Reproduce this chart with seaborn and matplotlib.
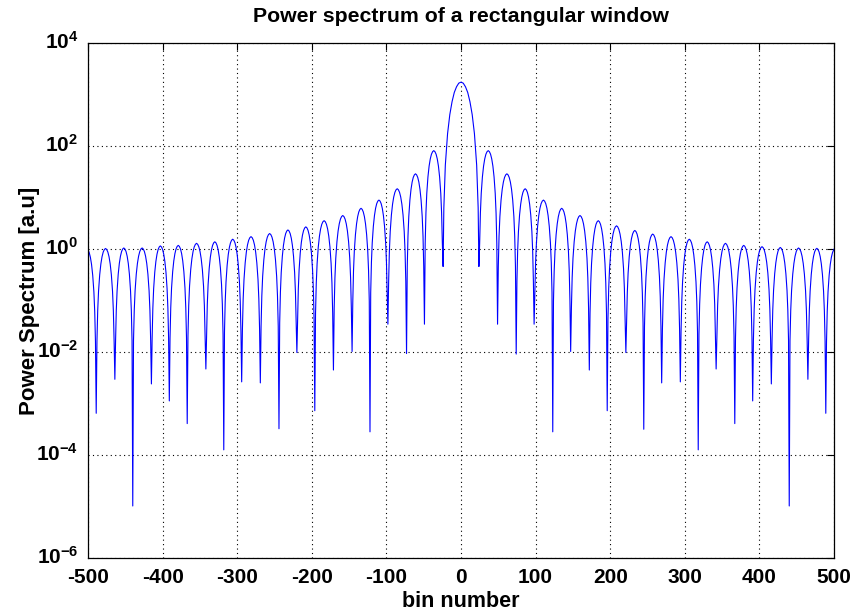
import numpy as np
import pandas as pd
import seaborn as sns
import matplotlib.pyplot as plt
import matplotlib.transforms as mtransforms
from matplotlib.ticker import NullLocator

# ---------------- data (log10 of power) ----------------
# nulls right of centre (bin, log10 depth)
null_bins_right = [24, 49, 74, 98, 123, 147, 172, 196, 221, 245,
                   269, 294, 318, 342, 367, 391, 416, 440, 465, 489]
null_log_right = [-0.34, -1.46, -2.04, -1.46, -3.55, -1.99, -2.35, -3.14, -2.01, -3.50,
                  -2.60, -2.58, -3.90, -2.33, -3.39, -2.95, -2.62, -4.99, -2.53, -3.19]
# side-lobe peaks right of centre (between consecutive nulls), log10
peak_log_right = [1.91, 1.46, 1.17, 0.95, 0.79, 0.65, 0.55, 0.45, 0.36, 0.29,
                  0.24, 0.19, 0.14, 0.11, 0.07, 0.045, 0.03, 0.02, 0.013]

# nulls left of centre
null_bins_left = [-24, -49, -73, -98, -122, -146, -171, -196, -220, -244,
                  -269, -294, -318, -342, -367, -391, -415, -440, -464, -489]
null_log_left = [-0.34, -1.46, -2.03, -1.46, -3.55, -1.99, -2.35, -3.14, -2.01, -3.49,
                 -2.60, -2.58, -3.90, -2.33, -3.39, -2.95, -2.62, -4.99, -2.53, -3.19]
peak_log_left = [1.91, 1.46, 1.17, 0.95, 0.79, 0.65, 0.55, 0.43, 0.37, 0.30,
                 0.24, 0.19, 0.14, 0.11, 0.07, 0.06, 0.02, 0.02, 0.01]

# value at the plot edges (bin -500 / 500), log10
edge_log_left = 0.0
edge_log_right = 0.0

# main lobe (bin, log10)
main_bins = [-23, -21, -18, -15, -12, -9, -6, -3, 0, 3, 6, 9, 12, 15, 18, 21, 23]
main_log = [0.80, 1.63, 2.24, 2.61, 2.86, 3.04, 3.15, 3.22, 3.24,
            3.22, 3.15, 3.04, 2.86, 2.61, 2.24, 1.63, 0.80]

# shape of one side lobe: position across the lobe
# (0 = one null, 1 = next null) and drop below the lobe peak in decades
lobe_frac = [0.04, 0.08, 0.125, 0.1875, 0.25, 0.3125, 0.375, 0.4375, 0.5,
             0.5625, 0.625, 0.6875, 0.75, 0.8125, 0.875, 0.92, 0.96]
lobe_drop = [1.80, 1.21, 0.83, 0.51, 0.30, 0.16, 0.07, 0.02, 0.0,
             0.02, 0.07, 0.16, 0.30, 0.51, 0.83, 1.21, 1.80]

x_ticks = [-500, -400, -300, -200, -100, 0, 100, 200, 300, 400, 500]
y_ticks = [1e-6, 1e-4, 1e-2, 1e0, 1e2, 1e4]
y_tick_labels = [r'$\mathbf{10^{-6}}$', r'$\mathbf{10^{-4}}$', r'$\mathbf{10^{-2}}$',
                 r'$\mathbf{10^{0}}$', r'$\mathbf{10^{2}}$', r'$\mathbf{10^{4}}$']

# ---------------- assemble the curve ----------------
xs, ls = [], []
xs += main_bins
ls += main_log


def add_side(nulls, nlog, peaks, edge_log, sign):
    for b, v in zip(nulls, nlog):
        xs.append(b)
        ls.append(v)
    for i, p in enumerate(peaks):
        a, b = nulls[i], nulls[i + 1]
        for f, d in zip(lobe_frac, lobe_drop):
            xs.append(a + f * (b - a))
            ls.append(p - d)
    # partial lobe at the edge
    a = nulls[-1]
    w = nulls[-1] - nulls[-2]
    for f, d in zip(lobe_frac, lobe_drop):
        xv = a + f * w
        if abs(xv) < 500:
            xs.append(xv)
            ls.append(edge_log - d)
    xs.append(sign * 500)
    ls.append(edge_log)


add_side(null_bins_right, null_log_right, peak_log_right, edge_log_right, 1)
add_side(null_bins_left, null_log_left, peak_log_left, edge_log_left, -1)

df = pd.DataFrame({'bin': xs, 'power': np.power(10.0, ls)}).sort_values('bin')

# ---------------- plot ----------------
sns.set_theme(style='white')
plt.rcParams['font.family'] = ['Liberation Sans', 'DejaVu Sans']
plt.rcParams['mathtext.fontset'] = 'custom'
plt.rcParams['mathtext.bf'] = 'Liberation Sans:bold'
plt.rcParams['mathtext.rm'] = 'Liberation Sans:bold'
for k in ['text.color', 'axes.labelcolor', 'xtick.color', 'ytick.color', 'axes.edgecolor']:
    plt.rcParams[k] = 'black'

fig = plt.figure(figsize=(8.61, 6.12), dpi=100)
ax = fig.add_axes([88 / 861, 1 - 558 / 612, (834 - 88) / 861, (558 - 43) / 612])

sns.lineplot(data=df, x='bin', y='power', ax=ax, color='#0000ff',
             linewidth=0.8, estimator=None, sort=False)

ax.set_yscale('log')
ax.set_xlim(-500, 500)
ax.set_ylim(1e-6, 1e4)
ax.set_xticks(x_ticks)
ax.set_xticklabels([str(t) for t in x_ticks])
ax.set_yticks(y_ticks)
ax.set_yticklabels(y_tick_labels)
ax.yaxis.set_minor_locator(NullLocator())

for lab in ax.get_xticklabels():
    lab.set_fontweight('bold')
ax.tick_params(axis='both', direction='in', top=True, right=True, length=5,
               width=0.8, colors='black', labelsize=15)
ax.tick_params(axis='x', pad=7)
ax.tick_params(axis='y', pad=7)

# lift the y tick labels so the base "10" sits on the tick, exponent above
shift = mtransforms.ScaledTranslation(0, 3 / 100, fig.dpi_scale_trans)
for lab in ax.get_yticklabels():
    lab.set_transform(lab.get_transform() + shift)

ax.grid(True, which='major', color='black', linestyle=(0, (1, 3)), linewidth=0.8)
for s in ax.spines.values():
    s.set_color('black')
    s.set_linewidth(0.9)

ax.set_title('Power spectrum of a rectangular window', fontsize=15.3,
             fontweight='bold', pad=15)
ax.set_xlabel('bin number', fontsize=15.5, fontweight='bold', labelpad=3)
ax.set_ylabel('Power Spectrum [a.u]', fontsize=16, fontweight='bold')
ax.yaxis.set_label_coords(-0.064, 0.5)

fig.savefig('out.png', dpi=100)
